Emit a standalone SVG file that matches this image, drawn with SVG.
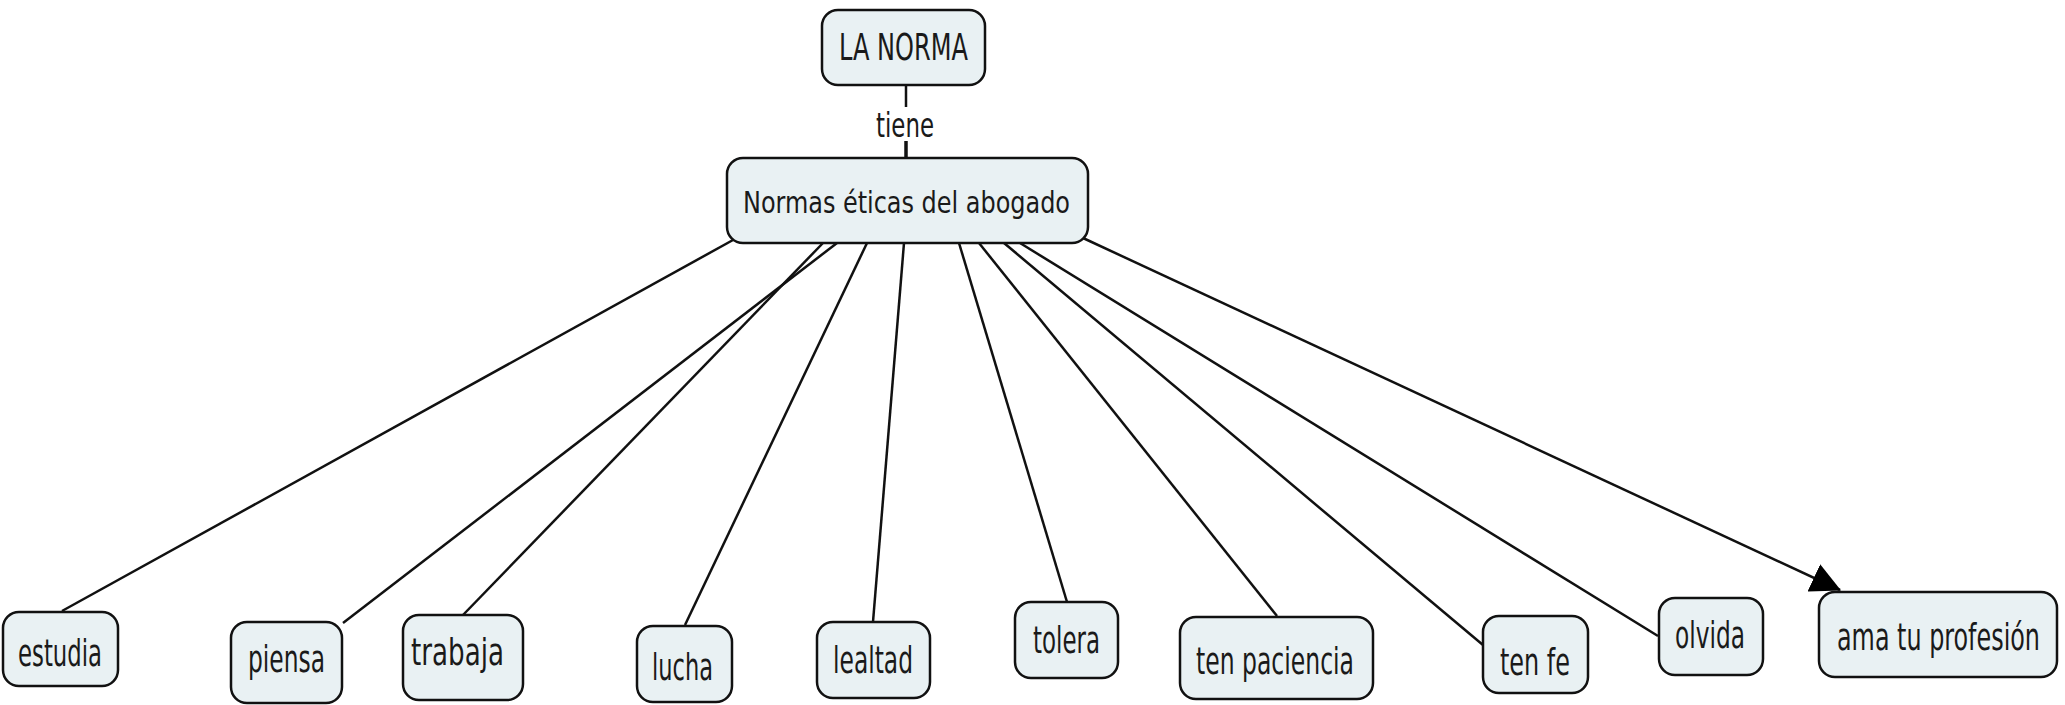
<svg xmlns="http://www.w3.org/2000/svg" width="2065" height="705" viewBox="0 0 2065 705">
<style>
.node rect{fill:#e9f1f3;stroke:#111;stroke-width:2.5}
.node text{font-family:"DejaVu Sans Condensed","DejaVu Sans",sans-serif;fill:#1a1a1a;font-size:37px}
.lbl{font-family:"DejaVu Sans Condensed","DejaVu Sans",sans-serif;fill:#1a1a1a;font-size:33px}
.conn line{stroke:#111;stroke-width:2.5;fill:none}
</style>
<defs>
<marker id="arr" markerUnits="userSpaceOnUse" markerWidth="30" markerHeight="30" viewBox="0 0 26 26" refX="25" refY="13" orient="auto">
<path d="M0,0 L26,13 L0,26 Z" fill="#000"/>
</marker>
</defs>
<rect width="2065" height="705" fill="#fff"/>
<g id="connectors" class="conn">
<line x1="906" y1="85" x2="906" y2="107"/>
<line x1="906" y1="141" x2="906" y2="158" style="stroke-width:3.5"/>
<line x1="733" y1="240" x2="62" y2="611"/>
<line x1="837" y1="243" x2="343" y2="623"/>
<line x1="823" y1="243" x2="463" y2="615"/>
<line x1="867" y1="243" x2="685" y2="625"/>
<line x1="904" y1="243" x2="873" y2="622"/>
<line x1="959" y1="243" x2="1067" y2="602"/>
<line x1="979" y1="243" x2="1277" y2="616"/>
<line x1="1004" y1="243" x2="1483" y2="645"/>
<line x1="1020" y1="243" x2="1658" y2="636"/>
<line x1="1083" y1="238" x2="1840" y2="590" marker-end="url(#arr)"/>
<text class="lbl" transform="translate(876,137) scale(0.7,1)" textLength="82.9" lengthAdjust="spacingAndGlyphs">tiene</text>
</g>
<g id="la-norma" class="node"><rect x="822" y="10" width="163" height="75" rx="16"/><text transform="translate(839,60) scale(0.7,1)" textLength="184.3" lengthAdjust="spacingAndGlyphs">LA NORMA</text></g>
<g id="normas-eticas" class="node"><rect x="727" y="158" width="361" height="85" rx="16"/><text transform="translate(743,213) scale(0.7,1)" textLength="467.1" lengthAdjust="spacingAndGlyphs" style="font-size:30px">Normas éticas del abogado</text></g>
<g id="estudia" class="node"><rect x="3" y="612" width="115" height="74" rx="16"/><text transform="translate(18,666) scale(0.7,1)" textLength="120" lengthAdjust="spacingAndGlyphs">estudia</text></g>
<g id="piensa" class="node"><rect x="231" y="622" width="111" height="81" rx="16"/><text transform="translate(248,672) scale(0.7,1)" textLength="110" lengthAdjust="spacingAndGlyphs">piensa</text></g>
<g id="trabaja" class="node"><rect x="403" y="615" width="120" height="85" rx="16"/><text transform="translate(411,665) scale(0.7,1)" textLength="132.9" lengthAdjust="spacingAndGlyphs">trabaja</text></g>
<g id="lucha" class="node"><rect x="637" y="626" width="95" height="76" rx="16"/><text transform="translate(652,680) scale(0.7,1)" textLength="87.1" lengthAdjust="spacingAndGlyphs">lucha</text></g>
<g id="lealtad" class="node"><rect x="817" y="622" width="113" height="76" rx="16"/><text transform="translate(833,673) scale(0.7,1)" textLength="114.3" lengthAdjust="spacingAndGlyphs">lealtad</text></g>
<g id="tolera" class="node"><rect x="1015" y="602" width="103" height="76" rx="16"/><text transform="translate(1033,653) scale(0.7,1)" textLength="95.7" lengthAdjust="spacingAndGlyphs">tolera</text></g>
<g id="ten-paciencia" class="node"><rect x="1180" y="617" width="193" height="82" rx="16"/><text transform="translate(1196,674) scale(0.7,1)" textLength="225.7" lengthAdjust="spacingAndGlyphs">ten paciencia</text></g>
<g id="ten-fe" class="node"><rect x="1483" y="616" width="105" height="77" rx="16"/><text transform="translate(1500,675) scale(0.7,1)" textLength="100" lengthAdjust="spacingAndGlyphs">ten fe</text></g>
<g id="olvida" class="node"><rect x="1659" y="598" width="104" height="77" rx="16"/><text transform="translate(1675,648) scale(0.7,1)" textLength="100" lengthAdjust="spacingAndGlyphs">olvida</text></g>
<g id="ama-tu-profesion" class="node"><rect x="1819" y="592" width="238" height="85" rx="16"/><text transform="translate(1837,650) scale(0.7,1)" textLength="290" lengthAdjust="spacingAndGlyphs">ama tu profesión</text></g>
</svg>
